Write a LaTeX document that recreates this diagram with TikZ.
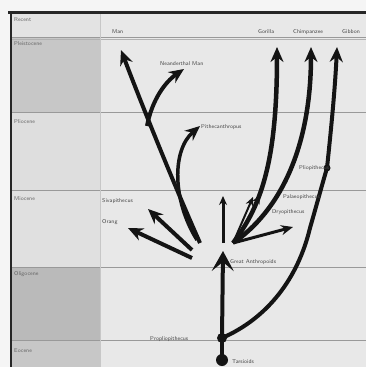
\documentclass[tikz,border=0pt]{standalone}
\usetikzlibrary{arrows.meta}
\begin{document}
\begin{tikzpicture}[x=1pt,y=-1pt,
  lbl/.style={font=\fontsize{5.6}{6}\selectfont\sffamily, text=black!72, inner sep=0pt, anchor=west},
  era/.style={lbl, text=black!60},
  br/.style={line width=4pt, draw=black!92},
  thin/.style={line width=2pt, draw=black!92},
  tip/.style={-{Stealth[length=15pt,width=13pt,inset=5pt]}},
  smalltip/.style={-{Stealth[length=9pt,width=8pt,inset=3pt]}},
  bigtip/.style={-{Stealth[length=20pt,width=22pt,inset=9pt]}},
  dot/.style={circle, fill=black!92, inner sep=0pt},
  rowline/.style={draw=black!40, line width=0.8pt}]
\useasboundingbox (0,0) rectangle (366,367);
% background
\fill[black!4] (0,0) rectangle (366,367);
\fill[black!9] (10,12) rectangle (366,367);
\fill[black!11] (12,13) rectangle (100,38);
\fill[black!22] (12,38) rectangle (100,112);
\fill[black!13] (12,112) rectangle (100,190);
\fill[black!12] (12,190) rectangle (100,267);
\fill[black!27] (12,267) rectangle (100,340);
\fill[black!22] (12,340) rectangle (100,367);
% grid
\draw[rowline] (12,37) -- (366,37);
\draw[draw=black!30, line width=0.6pt] (12,39.5) -- (366,39.5);
\draw[rowline] (12,112) -- (366,112);
\draw[rowline] (12,190) -- (366,190);
\draw[rowline] (12,267) -- (366,267);
\draw[rowline] (12,340) -- (366,340);
\draw[draw=black!22, line width=0.6pt] (100,13) -- (100,367);
\draw[black!85, line width=2.5pt] (8,12.5) -- (366,12.5);
\draw[black!85, line width=2.5pt] (11,12) -- (11,367);
% era labels
\node[era] (recent) at (14,20) {Recent};
\node[era] (pleist) at (14,44) {Pleistocene};
\node[era] (plioc) at (14,122) {Pliocene};
\node[era] (mioc) at (14,199) {Miocene};
\node[era] (oligo) at (14,274) {Oligocene};
\node[era] (eoc) at (14,351) {Eocene};
% coordinates
\coordinate (manS) at (200,243);
\coordinate (manT) at (121,50);
\coordinate (neS) at (147,126);
\coordinate (neT) at (184,69);
\coordinate (piS) at (197,240);
\coordinate (piT) at (200,126);
\coordinate (svS) at (192,250);
\coordinate (svT) at (148,209);
\coordinate (orS) at (192,258);
\coordinate (orT) at (128,228);
\coordinate (upS) at (223,243);
\coordinate (upT) at (223,196);
\coordinate (gaT) at (223,251);
\coordinate (fan) at (233,243);
\coordinate (fan2) at (236,241);
\coordinate (goT) at (277,47);
\coordinate (chT) at (311,47);
\coordinate (paT) at (253,197);
\coordinate (pbT) at (260,195);
\coordinate (drT) at (293,227);
\coordinate (gm) at (310,228);
\coordinate (giT) at (337,47);
% dots
\node[dot, minimum size=12pt] (tars) at (222,360) {};
\node[dot, minimum size=10pt] (prop) at (222,338) {};
\node[dot, minimum size=7pt] (plio) at (327,168) {};
% branches
\draw[br] (tars.center) -- (prop.center);
\draw[br, bigtip] (prop.center) -- (gaT);
\draw[line width=3pt, draw=black!92, smalltip] (upS) -- (upT);
\draw[br, tip] (manS) .. controls (172,180) and (140,100) .. (manT);
\draw[br, tip] (neS) .. controls (152,100) and (165,82) .. (neT);
\draw[line width=3.5pt, draw=black!92, tip] (piS) .. controls (172,200) and (172,150) .. (piT);
\draw[br, tip] (svS) -- (svT);
\draw[br, tip] (orS) -- (orT);
\draw[line width=4.5pt, draw=black!92, tip] (fan) .. controls (262,205) and (277,160) .. (goT);
\draw[line width=4.5pt, draw=black!92, tip] (fan2) .. controls (285,205) and (311,140) .. (chT);
\draw[thin, smalltip] (fan) -- (paT);
\draw[line width=1.5pt, draw=black!92, smalltip] (fan2) -- (pbT);
\draw[line width=3pt, draw=black!92, -{Stealth[length=12pt,width=10pt,inset=4pt]}] (fan) -- (drT);
\draw[br, tip] (prop.center) .. controls (268,318) and (298,278) .. (gm)
  .. controls (318,200) and (322,185) .. (plio.center)
  .. controls (331,130) and (335,90) .. (giT);
% labels
\node[lbl] (lman) at (112,32) {Man};
\node[lbl] (lgor) at (258,32) {Gorilla};
\node[lbl] (lchi) at (293,32) {Chimpanzee};
\node[lbl] (lgib) at (342,32) {Gibbon};
\node[lbl] (lnea) at (160,64) {Neanderthal Man};
\node[lbl] (lpit) at (201,127) {Pithecanthropus};
\node[lbl] (lsiv) at (102,201) {Sivapithecus};
\node[lbl] (lora) at (102,222) {Orang};
\node[lbl] (lgre) at (230,262) {Great Anthropoids};
\node[lbl] (lpli) at (299,168) {Pliopithecus};
\node[lbl] (lpal) at (283,197) {Palaeopithecus};
\node[lbl] (ldry) at (272,212) {Dryopithecus};
\node[lbl] (lpro) at (150,339) {Propliopithecus};
\node[lbl] (ltar) at (232,362) {Tarsioids};
\end{tikzpicture}
\end{document}
